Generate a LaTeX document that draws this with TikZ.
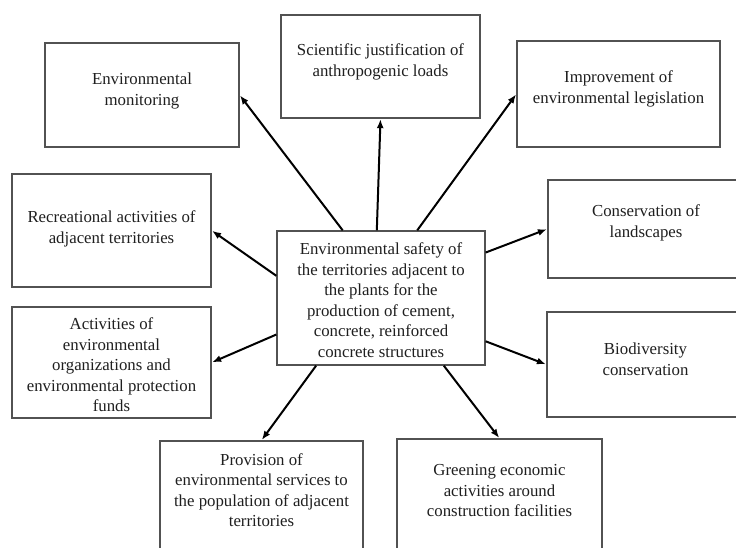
\documentclass[tikz,border=0pt]{standalone}
\usepackage{fontspec}
\setmainfont{Liberation Serif}
\usetikzlibrary{calc,arrows.meta}
\begin{document}
\begin{tikzpicture}[x=1pt,y=-1pt,
  box/.style={draw=black!68, line width=1.3pt, inner sep=0pt, fill=white},
  txt/.style={align=center, inner sep=0pt, text=black!88, font=\fontsize{16.8}{20.5}\selectfont},
  arr/.style={draw=black, line width=2pt, -{Latex[length=9pt,width=7pt]}, shorten >=0.5pt}]
\useasboundingbox (0,0) rectangle (736,548);
\fill[white] (0,0) rectangle (736,548);
\clip (0,0) rectangle (736,548);
% boxes
\node[box, minimum width=208pt, minimum height=134pt] (c) at (381,298) {};
\node[box, minimum width=194pt, minimum height=104pt] (em) at (142,95) {};
\node[box, minimum width=199pt, minimum height=103pt] (sci) at (380.5,66.5) {};
\node[box, minimum width=203pt, minimum height=106pt] (imp) at (618.5,94) {};
\node[box, minimum width=199pt, minimum height=113pt] (rec) at (111.5,230.5) {};
\node[box, minimum width=196pt, minimum height=98pt] (cons) at (646,229) {};
\node[box, minimum width=199pt, minimum height=111pt] (act) at (111.5,362.5) {};
\node[box, minimum width=197pt, minimum height=105pt] (bio) at (645.5,364.5) {};
\node[box, minimum width=203pt, minimum height=130pt] (prov) at (261.5,506) {};
\node[box, minimum width=205pt, minimum height=132pt] (green) at (499.5,505) {};
% texts
\node[txt] at ([yshift=-2pt]c.center) {Environmental safety of\\the territories adjacent to\\the plants for the\\production of cement,\\concrete, reinforced\\concrete structures};
\node[txt] at ([yshift=4pt]em.center) {Environmental\\monitoring};
\node[txt] at ([yshift=4.5pt]sci.center) {Scientific justification of\\anthropogenic loads};
\node[txt] at ([yshift=5pt]imp.center) {Improvement of\\environmental legislation};
\node[txt] at ([yshift=1.5pt]rec.center) {Recreational activities of\\adjacent territories};
\node[txt] at ([yshift=6pt]cons.center) {Conservation of\\landscapes};
\node[txt] at ([yshift=-2.5pt]act.center) {Activities of\\environmental\\organizations and\\environmental protection\\funds};
\node[txt] at ([yshift=5pt]bio.center) {Biodiversity\\conservation};
\node[txt] at ([yshift=16pt]prov.center) {Provision of\\environmental services to\\the population of adjacent\\territories};
\node[txt] at ([yshift=14pt]green.center) {Greening economic\\activities around\\construction facilities};
% arrows
\draw[arr] ($(c.north west)!0.317!(c.north east)$) -- (em.east);
\draw[arr] ($(c.north west)!0.48!(c.north east)$) -- (sci.south);
\draw[arr] ($(c.north west)!0.673!(c.north east)$) -- (imp.west);
\draw[arr] ($(c.north west)!0.336!(c.south west)$) -- (rec.east);
\draw[arr] ($(c.north east)!0.164!(c.south east)$) -- (cons.west);
\draw[arr] ($(c.north west)!0.77!(c.south west)$) -- (act.east);
\draw[arr] ($(c.north east)!0.82!(c.south east)$) -- (bio.west);
\draw[arr] ($(c.south west)!0.19!(c.south east)$) -- (prov.north);
\draw[arr] ($(c.south west)!0.80!(c.south east)$) -- (green.north);
\end{tikzpicture}
\end{document}
